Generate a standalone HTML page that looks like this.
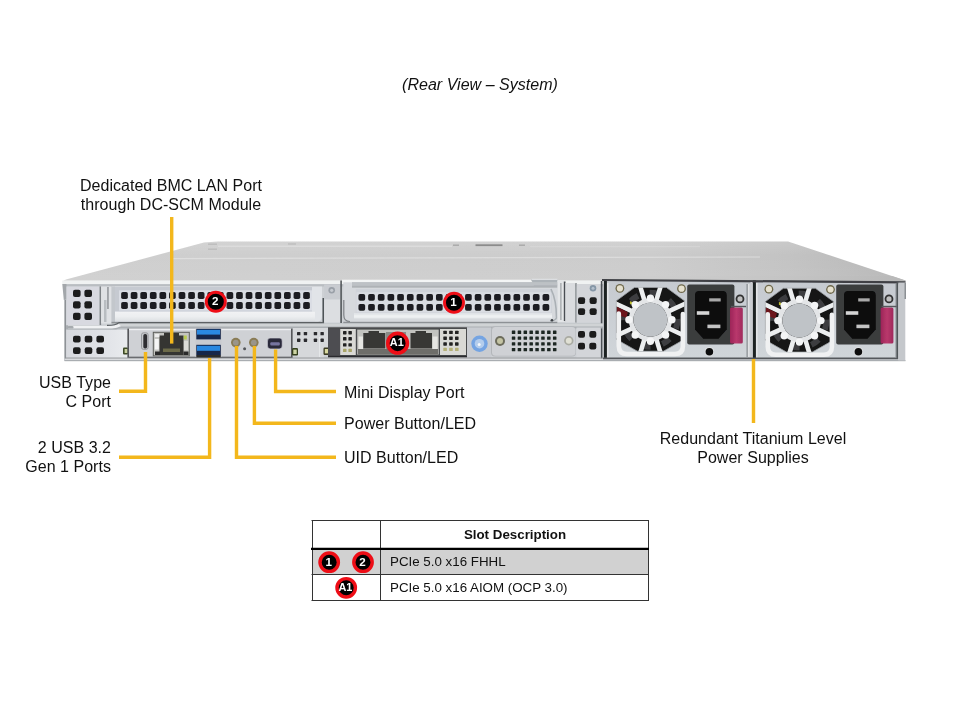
<!DOCTYPE html>
<html lang="en">
<head>
<meta charset="utf-8">
<title>Rear View – System</title>
<style>
html,body{margin:0;padding:0;background:#fff;}
body{width:960px;height:720px;position:relative;overflow:hidden;font-family:"Liberation Sans",Arial,sans-serif;color:#111;}
.t{position:absolute;white-space:nowrap;font-size:16px;line-height:19px;letter-spacing:0.03px;}
.c{text-align:center;}
.r{text-align:right;}
#title{left:360px;width:240px;top:75px;font-style:italic;}
#srv{position:absolute;left:0;top:0;width:960px;height:720px;}
.cell{position:absolute;font-size:13.33px;line-height:15px;white-space:nowrap;color:#111;}
#txt{position:absolute;left:0;top:0;width:960px;height:720px;filter:blur(0.3px);}
</style>
</head>
<body>
<svg id="srv" width="960" height="720" viewBox="0 0 960 720">
<defs>
<filter id="soft" x="-2%" y="-10%" width="104%" height="120%"><feGaussianBlur stdDeviation="0.7"/></filter>
<filter id="soft2"><feGaussianBlur stdDeviation="0.35"/></filter>
<linearGradient id="topgrad" x1="0" y1="0" x2="1" y2="0">
<stop offset="0" stop-color="#cfcfcf"/><stop offset="0.7" stop-color="#cccccc"/><stop offset="0.86" stop-color="#c3c3c3"/><stop offset="1" stop-color="#b7b7b7"/>
</linearGradient>
<linearGradient id="topgrad2" gradientUnits="userSpaceOnUse" x1="62.3" y1="0" x2="905.5" y2="0">
<stop offset="0" stop-color="#d0d0d0"/><stop offset="0.7" stop-color="#cdcdcd"/><stop offset="0.86" stop-color="#c4c4c4"/><stop offset="1" stop-color="#b8b8b8"/>
</linearGradient>
<linearGradient id="llgrad" x1="0" y1="0" x2="1" y2="0">
<stop offset="0" stop-color="#d7d9de"/><stop offset="0.5" stop-color="#dee0e5"/><stop offset="1" stop-color="#e9ebee"/>
</linearGradient>
<linearGradient id="bandgrad" x1="0" y1="0" x2="0" y2="1">
<stop offset="0" stop-color="#f1f2f4"/><stop offset="0.5" stop-color="#eceef0"/><stop offset="1" stop-color="#dcdfe2"/>
</linearGradient>
<linearGradient id="topshade" x1="0" y1="0" x2="0" y2="1">
<stop offset="0" stop-color="#fff" stop-opacity="0.10"/><stop offset="0.35" stop-color="#fff" stop-opacity="0"/><stop offset="1" stop-color="#fff" stop-opacity="0.05"/>
</linearGradient>
<linearGradient id="psuplate" x1="0" y1="0" x2="0" y2="1">
<stop offset="0" stop-color="#c6cad0"/><stop offset="1" stop-color="#d0d5d9"/>
</linearGradient>
<linearGradient id="latch" x1="0" y1="0" x2="1" y2="0">
<stop offset="0" stop-color="#9c2458"/><stop offset="0.5" stop-color="#b9386c"/><stop offset="1" stop-color="#a02a5c"/>
</linearGradient>
<linearGradient id="usb" x1="0" y1="0" x2="0" y2="1">
<stop offset="0" stop-color="#2a86dc"/><stop offset="0.5" stop-color="#1f7ad2"/><stop offset="0.55" stop-color="#14284e"/><stop offset="1" stop-color="#1c3a70"/>
</linearGradient>
</defs>
<g filter="url(#soft)">

<polygon points="62.3,281.5 66,279.4 204,242.5 218,241.4 788,241.4 905.5,280.5 905.5,281.5" fill="url(#topgrad)"/>
<polygon points="62.3,281.5 66,279.4 204,242.5 218,241.4 788,241.4 905.5,280.5 905.5,281.5" fill="url(#topshade)"/>
<path d="M172 258.6L760 257" stroke="#e2e2e2" stroke-width="1.2" opacity="0.8"/>
<path d="M218 246.3H452" stroke="#e2e2e2" stroke-width="1.4" opacity="0.7"/><path d="M530 246.6H700" stroke="#dcdcdc" stroke-width="1" opacity="0.6"/>
<rect x="475.5" y="244.3" width="27" height="1.8" fill="#8c8c8c"/>
<rect x="453" y="244.5" width="6" height="1.4" fill="#a8a8a8"/><rect x="519" y="244.5" width="6" height="1.4" fill="#a8a8a8"/>
<rect x="208" y="243.5" width="9" height="1.4" fill="#bcbcbc"/><rect x="208" y="248.5" width="9" height="1.4" fill="#bcbcbc"/>
<rect x="288" y="243.3" width="8" height="1.4" fill="#bebebe"/>
<rect x="64.5" y="281" width="840.5" height="79.8" fill="#cdd0d4"/>
<rect x="62.3" y="280.4" width="541" height="3.8" fill="#f0f2f2"/>
<rect x="64" y="284.2" width="539" height="2.3" fill="#b9bdc1"/>
<path d="M62.3 284H66.5V299.5L63.8 300Z" fill="#a3a7ab"/>
<rect x="64.5" y="300" width="1.5" height="60.5" fill="#8e9296"/>
<rect x="66.5" y="286.5" width="33" height="39" fill="#d8d9e0"/>
<rect x="73" y="289.8" width="7.6" height="7.3" rx="2" fill="#1b1c1e"/><rect x="84.4" y="289.8" width="7.6" height="7.3" rx="2" fill="#1b1c1e"/><rect x="73" y="301.3" width="7.6" height="7.3" rx="2" fill="#1b1c1e"/><rect x="84.4" y="301.3" width="7.6" height="7.3" rx="2" fill="#1b1c1e"/><rect x="73" y="312.8" width="7.6" height="7.3" rx="2" fill="#1b1c1e"/><rect x="84.4" y="312.8" width="7.6" height="7.3" rx="2" fill="#1b1c1e"/>
<rect x="99.6" y="286.5" width="1.5" height="39" fill="#7e8286"/>
<rect x="101.1" y="286.5" width="10" height="37" fill="#dfe1e4"/>
<rect x="107.3" y="287" width="1.3" height="22" fill="#85898d"/>
<rect x="104" y="300" width="2.5" height="22" fill="#b9bdc1"/>
<path d="M111.5 286.5H322V316Q322 322.3 315 322.3H111.5Z" fill="#e1e4e8"/>
<rect x="111.5" y="286.5" width="3.5" height="35.5" fill="#c3c7cc"/>
<rect x="115" y="287" width="197" height="24.5" fill="#c6cad1"/>
<rect x="115" y="311.8" width="200" height="9.6" fill="url(#bandgrad)"/>
<rect x="119" y="290.3" width="193" height="20.3" fill="#dadde4"/>
<rect x="121.15" y="292.1" width="6.7" height="6.8" rx="1.7" fill="#1e1f21"/><rect x="130.73" y="292.1" width="6.7" height="6.8" rx="1.7" fill="#1e1f21"/><rect x="140.31" y="292.1" width="6.7" height="6.8" rx="1.7" fill="#1e1f21"/><rect x="149.89" y="292.1" width="6.7" height="6.8" rx="1.7" fill="#1e1f21"/><rect x="159.47" y="292.1" width="6.7" height="6.8" rx="1.7" fill="#1e1f21"/><rect x="169.05" y="292.1" width="6.7" height="6.8" rx="1.7" fill="#1e1f21"/><rect x="178.63" y="292.1" width="6.7" height="6.8" rx="1.7" fill="#1e1f21"/><rect x="188.21" y="292.1" width="6.7" height="6.8" rx="1.7" fill="#1e1f21"/><rect x="197.79" y="292.1" width="6.7" height="6.8" rx="1.7" fill="#1e1f21"/><rect x="207.37" y="292.1" width="6.7" height="6.8" rx="1.7" fill="#1e1f21"/><rect x="216.95" y="292.1" width="6.7" height="6.8" rx="1.7" fill="#1e1f21"/><rect x="226.53" y="292.1" width="6.7" height="6.8" rx="1.7" fill="#1e1f21"/><rect x="236.11" y="292.1" width="6.7" height="6.8" rx="1.7" fill="#1e1f21"/><rect x="245.69" y="292.1" width="6.7" height="6.8" rx="1.7" fill="#1e1f21"/><rect x="255.27" y="292.1" width="6.7" height="6.8" rx="1.7" fill="#1e1f21"/><rect x="264.85" y="292.1" width="6.7" height="6.8" rx="1.7" fill="#1e1f21"/><rect x="274.43" y="292.1" width="6.7" height="6.8" rx="1.7" fill="#1e1f21"/><rect x="284.01" y="292.1" width="6.7" height="6.8" rx="1.7" fill="#1e1f21"/><rect x="293.59" y="292.1" width="6.7" height="6.8" rx="1.7" fill="#1e1f21"/><rect x="303.17" y="292.1" width="6.7" height="6.8" rx="1.7" fill="#1e1f21"/><rect x="121.15" y="302.1" width="6.7" height="6.8" rx="1.7" fill="#1e1f21"/><rect x="130.73" y="302.1" width="6.7" height="6.8" rx="1.7" fill="#1e1f21"/><rect x="140.31" y="302.1" width="6.7" height="6.8" rx="1.7" fill="#1e1f21"/><rect x="149.89" y="302.1" width="6.7" height="6.8" rx="1.7" fill="#1e1f21"/><rect x="159.47" y="302.1" width="6.7" height="6.8" rx="1.7" fill="#1e1f21"/><rect x="169.05" y="302.1" width="6.7" height="6.8" rx="1.7" fill="#1e1f21"/><rect x="178.63" y="302.1" width="6.7" height="6.8" rx="1.7" fill="#1e1f21"/><rect x="188.21" y="302.1" width="6.7" height="6.8" rx="1.7" fill="#1e1f21"/><rect x="197.79" y="302.1" width="6.7" height="6.8" rx="1.7" fill="#1e1f21"/><rect x="207.37" y="302.1" width="6.7" height="6.8" rx="1.7" fill="#1e1f21"/><rect x="216.95" y="302.1" width="6.7" height="6.8" rx="1.7" fill="#1e1f21"/><rect x="226.53" y="302.1" width="6.7" height="6.8" rx="1.7" fill="#1e1f21"/><rect x="236.11" y="302.1" width="6.7" height="6.8" rx="1.7" fill="#1e1f21"/><rect x="245.69" y="302.1" width="6.7" height="6.8" rx="1.7" fill="#1e1f21"/><rect x="255.27" y="302.1" width="6.7" height="6.8" rx="1.7" fill="#1e1f21"/><rect x="264.85" y="302.1" width="6.7" height="6.8" rx="1.7" fill="#1e1f21"/><rect x="274.43" y="302.1" width="6.7" height="6.8" rx="1.7" fill="#1e1f21"/><rect x="284.01" y="302.1" width="6.7" height="6.8" rx="1.7" fill="#1e1f21"/><rect x="293.59" y="302.1" width="6.7" height="6.8" rx="1.7" fill="#1e1f21"/><rect x="303.17" y="302.1" width="6.7" height="6.8" rx="1.7" fill="#1e1f21"/>
<rect x="111.5" y="321.8" width="210" height="1.6" fill="#8d9195"/>
<rect x="322.5" y="298" width="1.6" height="25" fill="#4e5256"/>
<rect x="324.1" y="284.5" width="16.4" height="15" fill="#c9ccd1"/>
<rect x="324.1" y="299.5" width="16.4" height="23" fill="#dcdee1"/>
<circle cx="331.7" cy="290.3" r="3.3" fill="#9aa0a8"/><circle cx="331.7" cy="290.3" r="1.6" fill="#c6cad0"/>
<rect x="340.3" y="280.5" width="1.6" height="42.5" fill="#55595d"/>
<path d="M343.3 282H557.5V322.3H351Q343.3 322.3 343.3 315Z" fill="#d6d9dd"/>
<rect x="342" y="279.7" width="189" height="2.6" fill="#f3f5f5"/>
<path d="M531 279.2H557.5V286H534Z" fill="#adb3b8"/>
<path d="M531.5 279.3H557.5" stroke="#e6e8ea" stroke-width="1"/>
<rect x="352" y="282.1" width="205.5" height="3.5" fill="#bdc1c5"/>
<rect x="352" y="285.5" width="205.5" height="2.2" fill="#aeb2b6"/>
<rect x="355.8" y="289" width="196" height="25" fill="#cfd3d9"/>
<rect x="354" y="313.2" width="198" height="5.3" fill="#e4e7ea"/>
<rect x="354" y="315.2" width="198" height="2.4" fill="#eef0f2"/>
<rect x="356.5" y="292.2" width="194.5" height="20.3" fill="#d9dce2"/>
<rect x="358.45" y="294.1" width="6.7" height="6.7" rx="1.7" fill="#1e1f21"/><rect x="368.14" y="294.1" width="6.7" height="6.7" rx="1.7" fill="#1e1f21"/><rect x="377.83" y="294.1" width="6.7" height="6.7" rx="1.7" fill="#1e1f21"/><rect x="387.52" y="294.1" width="6.7" height="6.7" rx="1.7" fill="#1e1f21"/><rect x="397.21" y="294.1" width="6.7" height="6.7" rx="1.7" fill="#1e1f21"/><rect x="406.9" y="294.1" width="6.7" height="6.7" rx="1.7" fill="#1e1f21"/><rect x="416.59" y="294.1" width="6.7" height="6.7" rx="1.7" fill="#1e1f21"/><rect x="426.28" y="294.1" width="6.7" height="6.7" rx="1.7" fill="#1e1f21"/><rect x="435.97" y="294.1" width="6.7" height="6.7" rx="1.7" fill="#1e1f21"/><rect x="445.66" y="294.1" width="6.7" height="6.7" rx="1.7" fill="#1e1f21"/><rect x="455.35" y="294.1" width="6.7" height="6.7" rx="1.7" fill="#1e1f21"/><rect x="465.04" y="294.1" width="6.7" height="6.7" rx="1.7" fill="#1e1f21"/><rect x="474.73" y="294.1" width="6.7" height="6.7" rx="1.7" fill="#1e1f21"/><rect x="484.42" y="294.1" width="6.7" height="6.7" rx="1.7" fill="#1e1f21"/><rect x="494.11" y="294.1" width="6.7" height="6.7" rx="1.7" fill="#1e1f21"/><rect x="503.8" y="294.1" width="6.7" height="6.7" rx="1.7" fill="#1e1f21"/><rect x="513.49" y="294.1" width="6.7" height="6.7" rx="1.7" fill="#1e1f21"/><rect x="523.18" y="294.1" width="6.7" height="6.7" rx="1.7" fill="#1e1f21"/><rect x="532.87" y="294.1" width="6.7" height="6.7" rx="1.7" fill="#1e1f21"/><rect x="542.56" y="294.1" width="6.7" height="6.7" rx="1.7" fill="#1e1f21"/><rect x="358.45" y="304" width="6.7" height="6.7" rx="1.7" fill="#1e1f21"/><rect x="368.14" y="304" width="6.7" height="6.7" rx="1.7" fill="#1e1f21"/><rect x="377.83" y="304" width="6.7" height="6.7" rx="1.7" fill="#1e1f21"/><rect x="387.52" y="304" width="6.7" height="6.7" rx="1.7" fill="#1e1f21"/><rect x="397.21" y="304" width="6.7" height="6.7" rx="1.7" fill="#1e1f21"/><rect x="406.9" y="304" width="6.7" height="6.7" rx="1.7" fill="#1e1f21"/><rect x="416.59" y="304" width="6.7" height="6.7" rx="1.7" fill="#1e1f21"/><rect x="426.28" y="304" width="6.7" height="6.7" rx="1.7" fill="#1e1f21"/><rect x="435.97" y="304" width="6.7" height="6.7" rx="1.7" fill="#1e1f21"/><rect x="445.66" y="304" width="6.7" height="6.7" rx="1.7" fill="#1e1f21"/><rect x="455.35" y="304" width="6.7" height="6.7" rx="1.7" fill="#1e1f21"/><rect x="465.04" y="304" width="6.7" height="6.7" rx="1.7" fill="#1e1f21"/><rect x="474.73" y="304" width="6.7" height="6.7" rx="1.7" fill="#1e1f21"/><rect x="484.42" y="304" width="6.7" height="6.7" rx="1.7" fill="#1e1f21"/><rect x="494.11" y="304" width="6.7" height="6.7" rx="1.7" fill="#1e1f21"/><rect x="503.8" y="304" width="6.7" height="6.7" rx="1.7" fill="#1e1f21"/><rect x="513.49" y="304" width="6.7" height="6.7" rx="1.7" fill="#1e1f21"/><rect x="523.18" y="304" width="6.7" height="6.7" rx="1.7" fill="#1e1f21"/><rect x="532.87" y="304" width="6.7" height="6.7" rx="1.7" fill="#1e1f21"/><rect x="542.56" y="304" width="6.7" height="6.7" rx="1.7" fill="#1e1f21"/>
<rect x="343.3" y="321.8" width="214" height="1.6" fill="#8d9195"/>
<path d="M343.8 300V315Q343.8 321.5 350 321.5" fill="none" stroke="#7d8185" stroke-width="1.2"/>
<path d="M551 289Q556.5 300 556.5 318Q555 321 550 321" fill="none" stroke="#aab0b5" stroke-width="1.6"/>
<circle cx="552" cy="320.2" r="1.3" fill="#3c4044"/>
<rect x="557.5" y="280.5" width="7" height="41.5" fill="#e4e6e8"/>
<rect x="560.3" y="283" width="1.2" height="37" fill="#9ca0a4"/>
<rect x="563.8" y="281.5" width="1.7" height="39.5" fill="#4a4e52"/>
<rect x="565.3" y="283" width="10" height="39.5" fill="#dadcdf"/>
<rect x="575.3" y="283" width="1.4" height="39.5" fill="#858a8e"/>
<rect x="576.7" y="284" width="24" height="38.5" fill="#d3d5d9"/>
<rect x="578" y="297.3" width="7.1" height="6.8" rx="2" fill="#1b1c1e"/><rect x="589.6" y="297.3" width="7.1" height="6.8" rx="2" fill="#1b1c1e"/><rect x="578" y="308.3" width="7.1" height="6.8" rx="2" fill="#1b1c1e"/><rect x="589.6" y="308.3" width="7.1" height="6.8" rx="2" fill="#1b1c1e"/>
<circle cx="593" cy="288.3" r="3.3" fill="#8596a6"/><circle cx="593" cy="288.3" r="1.5" fill="#b4c0cc"/>
<rect x="600.8" y="281" width="1.6" height="79" fill="#4c5054"/>
<path d="M66 325.3H112Q117 325.3 119 323.5H603V328.6H121Q118 328.6 116 329.5H66Z" fill="#abafb3"/>
<path d="M120 323.6H603V326.4H120Z" fill="#d0d3d5"/>
<path d="M68 326.9H112Q117 326.9 120 325" fill="none" stroke="#f0f1f3" stroke-width="3"/>
<path d="M107 325.3Q116 325.3 119 322.6H324" fill="none" stroke="#5c6064" stroke-width="1.2"/>
<rect x="67.5" y="326" width="6" height="2.6" rx="1.2" fill="#a6aaae"/>
<rect x="66.5" y="330" width="61" height="28" fill="url(#llgrad)"/>
<rect x="73" y="335.7" width="7.6" height="6.8" rx="2" fill="#1b1c1e"/><rect x="84.7" y="335.7" width="7.6" height="6.8" rx="2" fill="#1b1c1e"/><rect x="96.4" y="335.7" width="7.6" height="6.8" rx="2" fill="#1b1c1e"/><rect x="73" y="347.3" width="7.6" height="6.8" rx="2" fill="#1b1c1e"/><rect x="84.7" y="347.3" width="7.6" height="6.8" rx="2" fill="#1b1c1e"/><rect x="96.4" y="347.3" width="7.6" height="6.8" rx="2" fill="#1b1c1e"/>
<rect x="123" y="347.5" width="5" height="7" rx="1" fill="#3c4a28"/><rect x="124.6" y="349" width="3" height="4" fill="#c8d0a0"/>
<rect x="127.4" y="328.6" width="165.2" height="29.4" fill="#55575a"/>
<rect x="129" y="328.6" width="162" height="28.1" fill="#cfd1d5"/>
<rect x="129" y="328.7" width="162" height="1.5" fill="#eeeff2"/>
<rect x="141.5" y="332.8" width="6.6" height="16.6" rx="2" fill="#c6c8cc" stroke="#8c8e92" stroke-width="0.8"/>
<rect x="143.3" y="334" width="3.8" height="14.4" rx="1.7" fill="#2e2e30"/>
<rect x="153.3" y="332.3" width="36" height="23.6" fill="#c4c5c1" stroke="#5c5e5a" stroke-width="1"/>
<rect x="159.5" y="335.5" width="24" height="19.5" fill="#343432"/>
<rect x="164" y="333" width="15" height="4" fill="#343432"/>
<rect x="163" y="348.5" width="17" height="3.5" fill="#6c6a48"/>
<rect x="154.8" y="339" width="4" height="10.5" fill="#f6f6f6"/>
<rect x="154.8" y="334" width="4.5" height="3" fill="#eeeeee"/>
<rect x="183.8" y="335.5" width="3" height="4" fill="#b8cc50"/>
<rect x="184" y="341" width="4" height="9" fill="#dcdcd8"/>
<rect x="155" y="351.5" width="5" height="3.5" fill="#2a2a2a"/><rect x="183.5" y="351.5" width="5" height="3.5" fill="#2a2a2a"/>
<rect x="195.5" y="328.4" width="26" height="28.5" fill="#c9cbd0"/>
<rect x="196.3" y="328.8" width="24.5" height="10.6" fill="#15254a"/>
<rect x="197" y="329.8" width="23" height="4.8" fill="#2a88e0"/>
<rect x="196.3" y="344.8" width="24.5" height="10.4" fill="#15254a"/>
<rect x="197" y="345.8" width="23" height="5" fill="#2a88e0"/>
<rect x="196.3" y="355" width="24.5" height="2.6" fill="#2a2a2c"/>
<circle cx="235.8" cy="342.6" r="4.8" fill="#8a7c56"/><circle cx="235.8" cy="342.6" r="2.9" fill="#9a958a"/>
<circle cx="253.8" cy="342.6" r="4.8" fill="#8a7c56"/><circle cx="253.8" cy="342.6" r="2.9" fill="#9a958a"/>
<circle cx="244.6" cy="348.8" r="1.5" fill="#55575a"/>
<rect x="267.3" y="338" width="15" height="10.8" rx="2.8" fill="#9c9ca8"/>
<rect x="268" y="338.6" width="13.7" height="9.8" rx="2.4" fill="#2c2a3a"/>
<rect x="270.3" y="342.3" width="9.5" height="3.2" rx="1" fill="#7674a0"/>
<rect x="292" y="348" width="6" height="7.5" rx="1.2" fill="#34401f"/><rect x="293.3" y="349.6" width="3.4" height="4.4" fill="#cdd4a4"/>
<rect x="293" y="328" width="35" height="20" fill="#d6d8db"/>
<rect x="298" y="348" width="26" height="10" fill="#d6d8db"/>
<rect x="297" y="332" width="3.4" height="3.3" rx="0.6" fill="#2a2b2d"/><rect x="303.75" y="332" width="3.4" height="3.3" rx="0.6" fill="#2a2b2d"/><rect x="297" y="338.6" width="3.4" height="3.3" rx="0.6" fill="#2a2b2d"/><rect x="303.75" y="338.6" width="3.4" height="3.3" rx="0.6" fill="#2a2b2d"/>
<rect x="313.75" y="332" width="3.4" height="3.3" rx="0.6" fill="#2a2b2d"/><rect x="320.45" y="332" width="3.4" height="3.3" rx="0.6" fill="#2a2b2d"/><rect x="313.75" y="338.6" width="3.4" height="3.3" rx="0.6" fill="#2a2b2d"/><rect x="320.45" y="338.6" width="3.4" height="3.3" rx="0.6" fill="#2a2b2d"/>
<rect x="319.3" y="337" width="0.8" height="20" fill="#eceef0"/>
<rect x="323.5" y="347.5" width="5.5" height="7.5" rx="1.2" fill="#3a3a20"/><rect x="324.8" y="349" width="3.6" height="4.4" fill="#d8d8a0"/>
<rect x="328" y="327.3" width="139" height="29.6" fill="#4a4b4d"/>
<rect x="328.3" y="328.6" width="11.8" height="27.3" fill="#4d4e51"/>
<rect x="340.2" y="329" width="15.6" height="26" fill="#d9d9d5"/>
<rect x="343" y="331" width="3.5" height="3.4" rx="0.6" fill="#222"/><rect x="348.4" y="331" width="3.5" height="3.4" rx="0.6" fill="#222"/><rect x="343" y="337.1" width="3.5" height="3.4" rx="0.6" fill="#222"/><rect x="348.4" y="337.1" width="3.5" height="3.4" rx="0.6" fill="#222"/><rect x="343" y="343.2" width="3.5" height="3.4" rx="0.6" fill="#222"/><rect x="348.4" y="343.2" width="3.5" height="3.4" rx="0.6" fill="#222"/>
<rect x="343" y="348.8" width="3.5" height="3.3" rx="0.6" fill="#a8a468"/><rect x="348.4" y="348.8" width="3.5" height="3.3" rx="0.6" fill="#a8a468"/>
<rect x="357.2" y="329.6" width="81.5" height="25" fill="#c2c3bf"/>
<rect x="363.3" y="333" width="22" height="15.5" fill="#383836"/>
<rect x="368.5" y="331" width="10.5" height="4" fill="#383836"/>
<rect x="358.5" y="336.5" width="4.5" height="12.5" fill="#e6e6e2"/>
<rect x="358" y="349" width="80" height="5.5" fill="#6e6e6a"/>
<rect x="386" y="332" width="20" height="17" fill="#8a8a86"/>
<rect x="410.5" y="333" width="21.5" height="15.5" fill="#383836"/>
<rect x="415.5" y="331" width="10.5" height="4" fill="#383836"/>
<rect x="432.6" y="336.5" width="5" height="12.5" fill="#e6e6e2"/>
<rect x="440" y="329" width="26" height="26" fill="#d9d9d5"/>
<rect x="443.3" y="330.7" width="3.6" height="3.4" rx="0.6" fill="#222"/><rect x="449.15" y="330.7" width="3.6" height="3.4" rx="0.6" fill="#222"/><rect x="455" y="330.7" width="3.6" height="3.4" rx="0.6" fill="#222"/><rect x="443.3" y="336.5" width="3.6" height="3.4" rx="0.6" fill="#222"/><rect x="449.15" y="336.5" width="3.6" height="3.4" rx="0.6" fill="#222"/><rect x="455" y="336.5" width="3.6" height="3.4" rx="0.6" fill="#222"/><rect x="443.3" y="342.3" width="3.6" height="3.4" rx="0.6" fill="#222"/><rect x="449.15" y="342.3" width="3.6" height="3.4" rx="0.6" fill="#222"/><rect x="455" y="342.3" width="3.6" height="3.4" rx="0.6" fill="#222"/>
<rect x="443.3" y="347.8" width="3.6" height="3.2" rx="0.6" fill="#b4b078"/><rect x="449.15" y="347.8" width="3.6" height="3.2" rx="0.6" fill="#b4b078"/><rect x="455" y="347.8" width="3.6" height="3.2" rx="0.6" fill="#b4b078"/>
<rect x="328" y="355.8" width="139" height="1.6" fill="#2c2c2e"/>
<rect x="467" y="327.5" width="24" height="30" fill="#c9ccd1"/>
<circle cx="479.5" cy="343.7" r="8.2" fill="#74a4e2"/><circle cx="479.5" cy="343.7" r="4.8" fill="#b4cdec"/><circle cx="479.2" cy="344.5" r="1.5" fill="#f4f8fc"/>
<rect x="491" y="326.2" width="85" height="30.3" rx="4" fill="#b3b6ba"/>
<rect x="492" y="327" width="83.5" height="28.8" rx="3.6" fill="#cfd1d5"/>
<circle cx="500" cy="341" r="5" fill="#6c6c5c"/><circle cx="500" cy="341" r="3" fill="#c4c4a4"/>
<rect x="511.8" y="330.6" width="3.5" height="3.3" rx="0.5" fill="#1d2622"/><rect x="517.68" y="330.6" width="3.5" height="3.3" rx="0.5" fill="#1d2622"/><rect x="523.56" y="330.6" width="3.5" height="3.3" rx="0.5" fill="#1d2622"/><rect x="529.44" y="330.6" width="3.5" height="3.3" rx="0.5" fill="#1d2622"/><rect x="535.32" y="330.6" width="3.5" height="3.3" rx="0.5" fill="#1d2622"/><rect x="541.2" y="330.6" width="3.5" height="3.3" rx="0.5" fill="#1d2622"/><rect x="547.08" y="330.6" width="3.5" height="3.3" rx="0.5" fill="#1d2622"/><rect x="552.96" y="330.6" width="3.5" height="3.3" rx="0.5" fill="#1d2622"/><rect x="511.8" y="336.4" width="3.5" height="3.3" rx="0.5" fill="#1d2622"/><rect x="517.68" y="336.4" width="3.5" height="3.3" rx="0.5" fill="#1d2622"/><rect x="523.56" y="336.4" width="3.5" height="3.3" rx="0.5" fill="#1d2622"/><rect x="529.44" y="336.4" width="3.5" height="3.3" rx="0.5" fill="#1d2622"/><rect x="535.32" y="336.4" width="3.5" height="3.3" rx="0.5" fill="#1d2622"/><rect x="541.2" y="336.4" width="3.5" height="3.3" rx="0.5" fill="#1d2622"/><rect x="547.08" y="336.4" width="3.5" height="3.3" rx="0.5" fill="#1d2622"/><rect x="552.96" y="336.4" width="3.5" height="3.3" rx="0.5" fill="#1d2622"/><rect x="511.8" y="342.2" width="3.5" height="3.3" rx="0.5" fill="#1d2622"/><rect x="517.68" y="342.2" width="3.5" height="3.3" rx="0.5" fill="#1d2622"/><rect x="523.56" y="342.2" width="3.5" height="3.3" rx="0.5" fill="#1d2622"/><rect x="529.44" y="342.2" width="3.5" height="3.3" rx="0.5" fill="#1d2622"/><rect x="535.32" y="342.2" width="3.5" height="3.3" rx="0.5" fill="#1d2622"/><rect x="541.2" y="342.2" width="3.5" height="3.3" rx="0.5" fill="#1d2622"/><rect x="547.08" y="342.2" width="3.5" height="3.3" rx="0.5" fill="#1d2622"/><rect x="552.96" y="342.2" width="3.5" height="3.3" rx="0.5" fill="#1d2622"/><rect x="511.8" y="348" width="3.5" height="3.3" rx="0.5" fill="#1d2622"/><rect x="517.68" y="348" width="3.5" height="3.3" rx="0.5" fill="#1d2622"/><rect x="523.56" y="348" width="3.5" height="3.3" rx="0.5" fill="#1d2622"/><rect x="529.44" y="348" width="3.5" height="3.3" rx="0.5" fill="#1d2622"/><rect x="535.32" y="348" width="3.5" height="3.3" rx="0.5" fill="#1d2622"/><rect x="541.2" y="348" width="3.5" height="3.3" rx="0.5" fill="#1d2622"/><rect x="547.08" y="348" width="3.5" height="3.3" rx="0.5" fill="#1d2622"/><rect x="552.96" y="348" width="3.5" height="3.3" rx="0.5" fill="#1d2622"/>
<circle cx="568.8" cy="340.7" r="4.7" fill="#a9aaa2"/><circle cx="568.8" cy="340.7" r="3" fill="#e0e0d4"/>
<rect x="576.5" y="327.5" width="24" height="30.5" fill="#d3d5d9"/>
<rect x="578" y="331" width="7" height="6.8" rx="2" fill="#1b1c1e"/><rect x="589.3" y="331" width="7" height="6.8" rx="2" fill="#1b1c1e"/><rect x="578" y="342.7" width="7" height="6.8" rx="2" fill="#1b1c1e"/><rect x="589.3" y="342.7" width="7" height="6.8" rx="2" fill="#1b1c1e"/>
<rect x="66" y="357.6" width="537" height="1.1" fill="#8a8c90"/>
<rect x="64.5" y="358.6" width="840" height="1.6" fill="#d9dbde"/>
<rect x="64.5" y="360" width="841" height="1.2" fill="#a9adb1"/>
<rect x="606.5" y="280.6" width="144.5" height="77.6" fill="url(#psuplate)"/><rect x="603.9" y="279" width="3" height="80" fill="#1e2022"/><rect x="607" y="283" width="1.6" height="75" fill="#e4e6e8"/><clipPath id="fc1"><path d="M634.4 287.5L666.4 287.5L684.4 300.8L684.4 339.3L663.4 351.2L637.4 351.2L616.4 339.3L616.4 300.8Z"/></clipPath><path d="M634.4 287.5L666.4 287.5L684.4 300.8L684.4 339.3L663.4 351.2L637.4 351.2L616.4 339.3L616.4 300.8Z" fill="#121212" stroke="#9a9ea2" stroke-width="0.8"/><g clip-path="url(#fc1)"><rect x="629.9" y="301.3" width="3.4" height="3" fill="#b9b930"/><circle cx="650.4" cy="319.8" r="27" fill="none" stroke="#3c3e40" stroke-width="6" stroke-dasharray="9 12"/><line x1="645.4" y1="303.5" x2="637.5" y2="277.7" stroke="#eceeef" stroke-width="4.6"/><line x1="655.4" y1="303.5" x2="663.3" y2="277.7" stroke="#eceeef" stroke-width="4.6"/><line x1="665.8" y1="312.6" x2="690.3" y2="301.2" stroke="#eceeef" stroke-width="4.6"/><line x1="665.8" y1="327" x2="690.3" y2="338.4" stroke="#eceeef" stroke-width="4.6"/><line x1="655.4" y1="336.1" x2="663.3" y2="361.9" stroke="#eceeef" stroke-width="4.6"/><line x1="645.4" y1="336.1" x2="637.5" y2="361.9" stroke="#eceeef" stroke-width="4.6"/><line x1="635" y1="327" x2="610.5" y2="338.4" stroke="#eceeef" stroke-width="4.6"/><line x1="635" y1="312.6" x2="610.5" y2="301.2" stroke="#eceeef" stroke-width="4.6"/><path d="M616.9 306.8l11 5.5l-1.5 5.5l-9.5-3z" fill="#6c121c"/></g><circle cx="650.4" cy="319.8" r="19.3" fill="none" stroke="#e3e5e7" stroke-width="4.6"/><circle cx="650.4" cy="298.3" r="3.7" fill="#f4f5f6"/><circle cx="665.6" cy="304.6" r="3.7" fill="#f4f5f6"/><circle cx="671.9" cy="319.8" r="3.7" fill="#f4f5f6"/><circle cx="665.6" cy="335" r="3.7" fill="#f4f5f6"/><circle cx="650.4" cy="341.3" r="3.7" fill="#f4f5f6"/><circle cx="635.2" cy="335" r="3.7" fill="#f4f5f6"/><circle cx="628.9" cy="319.8" r="3.7" fill="#f4f5f6"/><circle cx="635.2" cy="304.6" r="3.7" fill="#f4f5f6"/><circle cx="650.4" cy="319.8" r="17" fill="#bfc3c7"/><path d="M618.8 313.5V346Q618.8 354 626.8 354H674.9Q682.9 354 682.9 346V314" fill="none" stroke="#f0f1f2" stroke-width="4.6" stroke-linecap="round"/><circle cx="619.9" cy="288.4" r="4.4" fill="#6e684c"/><circle cx="619.9" cy="288.4" r="3.1" fill="#e6e1cf"/><circle cx="681.5" cy="288.7" r="4.4" fill="#6e684c"/><circle cx="681.5" cy="288.7" r="3.1" fill="#e6e1cf"/><rect x="687.2" y="284.4" width="47.2" height="60.2" rx="2" fill="#3b3c3e"/><path d="M699 291H722.7Q726.7 291 726.7 295V329.5L718.5 338.8H703.3L695 329.5V295Q695 291 699 291Z" fill="#0a0a0b"/><rect x="709.2" y="298.3" width="11.5" height="3.2" fill="#a9a9a9"/><rect x="696.8" y="311.2" width="12.5" height="3.6" fill="#d4d4d4"/><rect x="707.4" y="324.6" width="13" height="3.6" fill="#c4c4c4"/><rect x="746.6" y="284" width="1.2" height="73" fill="#7c8084"/><rect x="747.8" y="284" width="1.6" height="73" fill="#e0e2e4"/><rect x="730" y="307.6" width="12.8" height="36" rx="1.5" fill="url(#latch)"/><rect x="731" y="305.8" width="15" height="1.4" fill="#55585c"/><circle cx="740" cy="298.9" r="4.4" fill="#303032"/><circle cx="740" cy="298.9" r="2.6" fill="#c0c0c0"/><circle cx="709.4" cy="351.7" r="4.8" fill="#dcdee0"/><circle cx="709.4" cy="351.7" r="3.8" fill="#0e0e0e"/>
<rect x="755.5" y="280.6" width="144.5" height="77.6" fill="url(#psuplate)"/><rect x="752.9" y="279" width="3" height="80" fill="#1e2022"/><rect x="756" y="283" width="1.6" height="75" fill="#e4e6e8"/><clipPath id="fc2"><path d="M783.4 288.3L815.4 288.3L833.4 301.6L833.4 340.1L812.4 352L786.4 352L765.4 340.1L765.4 301.6Z"/></clipPath><path d="M783.4 288.3L815.4 288.3L833.4 301.6L833.4 340.1L812.4 352L786.4 352L765.4 340.1L765.4 301.6Z" fill="#121212" stroke="#9a9ea2" stroke-width="0.8"/><g clip-path="url(#fc2)"><rect x="778.9" y="302.1" width="3.4" height="3" fill="#b9b930"/><circle cx="799.4" cy="320.6" r="27" fill="none" stroke="#3c3e40" stroke-width="6" stroke-dasharray="9 12"/><line x1="794.4" y1="304.3" x2="786.5" y2="278.5" stroke="#eceeef" stroke-width="4.6"/><line x1="804.4" y1="304.3" x2="812.3" y2="278.5" stroke="#eceeef" stroke-width="4.6"/><line x1="814.8" y1="313.4" x2="839.3" y2="302" stroke="#eceeef" stroke-width="4.6"/><line x1="814.8" y1="327.8" x2="839.3" y2="339.2" stroke="#eceeef" stroke-width="4.6"/><line x1="804.4" y1="336.9" x2="812.3" y2="362.7" stroke="#eceeef" stroke-width="4.6"/><line x1="794.4" y1="336.9" x2="786.5" y2="362.7" stroke="#eceeef" stroke-width="4.6"/><line x1="784" y1="327.8" x2="759.5" y2="339.2" stroke="#eceeef" stroke-width="4.6"/><line x1="784" y1="313.4" x2="759.5" y2="302" stroke="#eceeef" stroke-width="4.6"/><path d="M765.9 307.6l11 5.5l-1.5 5.5l-9.5-3z" fill="#6c121c"/></g><circle cx="799.4" cy="320.6" r="19.3" fill="none" stroke="#e3e5e7" stroke-width="4.6"/><circle cx="799.4" cy="299.1" r="3.7" fill="#f4f5f6"/><circle cx="814.6" cy="305.4" r="3.7" fill="#f4f5f6"/><circle cx="820.9" cy="320.6" r="3.7" fill="#f4f5f6"/><circle cx="814.6" cy="335.8" r="3.7" fill="#f4f5f6"/><circle cx="799.4" cy="342.1" r="3.7" fill="#f4f5f6"/><circle cx="784.2" cy="335.8" r="3.7" fill="#f4f5f6"/><circle cx="777.9" cy="320.6" r="3.7" fill="#f4f5f6"/><circle cx="784.2" cy="305.4" r="3.7" fill="#f4f5f6"/><circle cx="799.4" cy="320.6" r="17" fill="#bfc3c7"/><path d="M767.8 314.3V346.8Q767.8 354.8 775.8 354.8H823.9Q831.9 354.8 831.9 346.8V314.8" fill="none" stroke="#f0f1f2" stroke-width="4.6" stroke-linecap="round"/><circle cx="768.9" cy="289.2" r="4.4" fill="#6e684c"/><circle cx="768.9" cy="289.2" r="3.1" fill="#e6e1cf"/><circle cx="830.5" cy="289.5" r="4.4" fill="#6e684c"/><circle cx="830.5" cy="289.5" r="3.1" fill="#e6e1cf"/><rect x="836.2" y="284.4" width="47.2" height="60.2" rx="2" fill="#3b3c3e"/><path d="M848 291H871.7Q875.7 291 875.7 295V329.5L867.5 338.8H852.3L844 329.5V295Q844 291 848 291Z" fill="#0a0a0b"/><rect x="858.2" y="298.3" width="11.5" height="3.2" fill="#a9a9a9"/><rect x="845.8" y="311.2" width="12.5" height="3.6" fill="#d4d4d4"/><rect x="856.4" y="324.6" width="13" height="3.6" fill="#c4c4c4"/><rect x="895.6" y="284" width="1.2" height="73" fill="#7c8084"/><rect x="896.8" y="284" width="1.6" height="73" fill="#e0e2e4"/><rect x="880.6" y="307.6" width="12.8" height="36" rx="1.5" fill="url(#latch)"/><rect x="881.6" y="305.8" width="15" height="1.4" fill="#55585c"/><circle cx="889" cy="298.9" r="4.4" fill="#303032"/><circle cx="889" cy="298.9" r="2.6" fill="#c0c0c0"/><circle cx="858.4" cy="351.7" r="4.8" fill="#dcdee0"/><circle cx="858.4" cy="351.7" r="3.8" fill="#0e0e0e"/>
<polygon points="602,279.5 905.5,281.5 905.5,280.5 892,276 602,276" fill="url(#topgrad2)"/>
<polygon points="602,278.9 905.5,281.2 905.5,283.5 602,281.1" fill="#3f4145"/>
<rect x="750.5" y="282" width="1.5" height="77" fill="#caccd0"/>
<rect x="896.5" y="282" width="1.8" height="77" fill="#505458"/>
<rect x="898.3" y="282.5" width="7" height="78" fill="#c5c8cc"/>
<rect x="904.5" y="283" width="1.5" height="16" fill="#8c9094"/>
<rect x="603" y="357.5" width="295" height="1.8" fill="#55585c"/>
</g>
<g fill="none" stroke="#f3b71b" stroke-width="3.4" filter="url(#soft2)">
<path d="M171.7 217V343.6"/>
<path d="M119 391.2H145.5V352"/>
<path d="M119 457.2H209.6V358"/>
<path d="M336 457.2H236.5V346"/>
<path d="M336 423.3H254.4V346"/>
<path d="M336 391.5H275.6V349.5"/>
<path d="M753.5 423V359"/>
</g>
<g>
<rect x="312" y="550" width="336" height="24" fill="#d1d1d1"/>
<g stroke="#333" stroke-width="1" fill="none">
<path d="M311.5 520.5H648.5"/>
<path d="M311.5 574.5H648.5"/>
<path d="M311.5 600.5H648.5"/>
<path d="M312.5 520V601"/>
<path d="M380.5 520V601"/>
<path d="M648.5 520V601"/>
</g>
<path d="M311 548.9H649" stroke="#000" stroke-width="2.4" fill="none"/>
</g>
<g filter="url(#soft2)">
<circle cx="215.8" cy="301.7" r="9.5" fill="#050505" stroke="#ee0a14" stroke-width="2.9"/><text x="215.3" y="305.1" text-anchor="middle" font-family="Liberation Sans, Arial, sans-serif" font-weight="bold" font-size="11.6" fill="#fff">2</text>
<circle cx="454" cy="302.7" r="9.5" fill="#050505" stroke="#ee0a14" stroke-width="2.9"/><text x="453.5" y="306.1" text-anchor="middle" font-family="Liberation Sans, Arial, sans-serif" font-weight="bold" font-size="11.6" fill="#fff">1</text>
<circle cx="397.6" cy="343.2" r="9.8" fill="#050505" stroke="#ee0a14" stroke-width="3.6"/><text x="396.8" y="345.9" text-anchor="middle" font-family="Liberation Sans, Arial, sans-serif" font-weight="bold" font-size="10.9" fill="#fff">A1</text>
<circle cx="329.2" cy="562.2" r="9.2" fill="#050505" stroke="#ee0a14" stroke-width="3.4"/><text x="328.7" y="565.6" text-anchor="middle" font-family="Liberation Sans, Arial, sans-serif" font-weight="bold" font-size="11.6" fill="#fff">1</text>
<circle cx="363" cy="562.2" r="9.2" fill="#050505" stroke="#ee0a14" stroke-width="3.4"/><text x="362.5" y="565.6" text-anchor="middle" font-family="Liberation Sans, Arial, sans-serif" font-weight="bold" font-size="11.6" fill="#fff">2</text>
<circle cx="346.2" cy="587.8" r="9.2" fill="#050505" stroke="#ee0a14" stroke-width="3.4"/><text x="345.4" y="590.5" text-anchor="middle" font-family="Liberation Sans, Arial, sans-serif" font-weight="bold" font-size="10.9" fill="#fff">A1</text>
</g>
</svg>
<div id="txt">
<div class="t c" id="title">(Rear View – System)</div>
<div class="t c" style="left:71px;width:200px;top:176px;">Dedicated BMC LAN Port<br>through DC-SCM Module</div>
<div class="t r" style="left:0;width:111px;top:373px;">USB Type<br>C Port</div>
<div class="t r" style="left:0;width:111px;top:438px;">2 USB 3.2<br>Gen 1 Ports</div>
<div class="t" style="left:344px;top:383px;">Mini Display Port</div>
<div class="t" style="left:344px;top:414px;">Power Button/LED</div>
<div class="t" style="left:344px;top:448px;">UID Button/LED</div>
<div class="t c" style="left:633px;width:240px;top:429px;">Redundant Titanium Level<br>Power Supplies</div>
<div class="cell" style="left:381px;width:268px;top:527px;text-align:center;font-weight:bold;">Slot Description</div>
<div class="cell" style="left:390px;top:554px;">PCIe 5.0 x16 FHHL</div>
<div class="cell" style="left:390px;top:580px;">PCIe 5.0 x16 AIOM (OCP 3.0)</div>
</div>
</body>
</html>
